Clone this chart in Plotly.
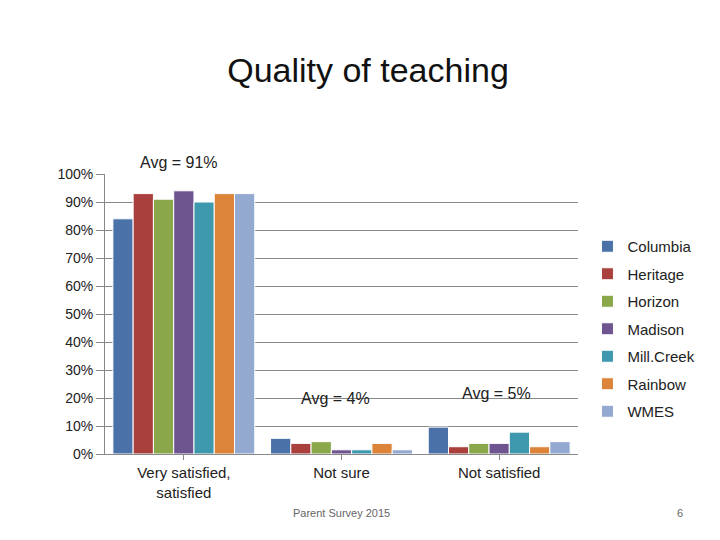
import plotly.graph_objects as go

categories = ["Very satisfied,<br>satisfied", "Not sure", "Not satisfied"]
schools = ["Columbia", "Heritage", "Horizon", "Madison", "Mill.Creek", "Rainbow", "WMES"]
colors = ["#4a72a8", "#a9403d", "#8aa84a", "#6e558f", "#3e98ae", "#db843a", "#93a9d0"]
values = {
    "Columbia":   [0.84, 0.056, 0.096],
    "Heritage":   [0.93, 0.038, 0.026],
    "Horizon":    [0.91, 0.044, 0.038],
    "Madison":    [0.94, 0.015, 0.038],
    "Mill.Creek": [0.90, 0.015, 0.078],
    "Rainbow":    [0.93, 0.038, 0.026],
    "WMES":       [0.93, 0.015, 0.044],
}
avg_labels = ["Avg = 91%", "Avg = 4%", "Avg = 5%"]

fig = go.Figure()
for s, c in zip(schools, colors):
    fig.add_bar(name=s, x=categories, y=values[s], legendgroup=s,
                marker=dict(color=c, line=dict(color="white", width=1)))

font = "Liberation Sans"
fig.update_layout(
    width=720, height=540, template="none",
    paper_bgcolor="white", plot_bgcolor="white",
    font=dict(family=font, size=15, color="#222"),
    title=dict(text="Quality of teaching", x=0.5, y=0.875, xanchor="center", yanchor="middle",
               font=dict(size=34, color="#111")),
    margin=dict(l=97, r=150, t=166, b=94),
    bargap=0.1, bargroupgap=0,
    legend=dict(x=1.02, y=0.8, xanchor="left", yanchor="top", font=dict(size=15), tracegroupgap=5,
                itemwidth=30),
    xaxis=dict(showgrid=False, showline=True, linecolor="#888", ticks="outside", tickcolor="#888",
               tickfont=dict(size=15)),
    yaxis=dict(range=[0, 1], dtick=0.1, tickformat=".0%", showgrid=True, gridcolor="#888",
               showline=True, linecolor="#888", ticks="outside", tickcolor="#888", ticklen=8,
               tickfont=dict(size=14)),
    showlegend=True,
)
ann_pos = [(0.07, 1.08), (0.41, 0.16), (0.75, 0.18)]
for t, (x, y) in zip(avg_labels, ann_pos):
    fig.add_annotation(text=t, x=x, y=y, xref="paper", yref="paper", showarrow=False,
                       font=dict(size=16), xanchor="left")
fig.add_annotation(text="Parent Survey 2015", x=0.5, y=-0.24, xref="paper", yref="paper",
                   showarrow=False, font=dict(size=11, color="#666"))
fig.add_annotation(text="6", x=1.215, y=-0.24, xref="paper", yref="paper", showarrow=False,
                   xanchor="center", font=dict(size=11, color="#666"))
fig.update_layout(title_y=0.885)
fig.write_html("out.html")
